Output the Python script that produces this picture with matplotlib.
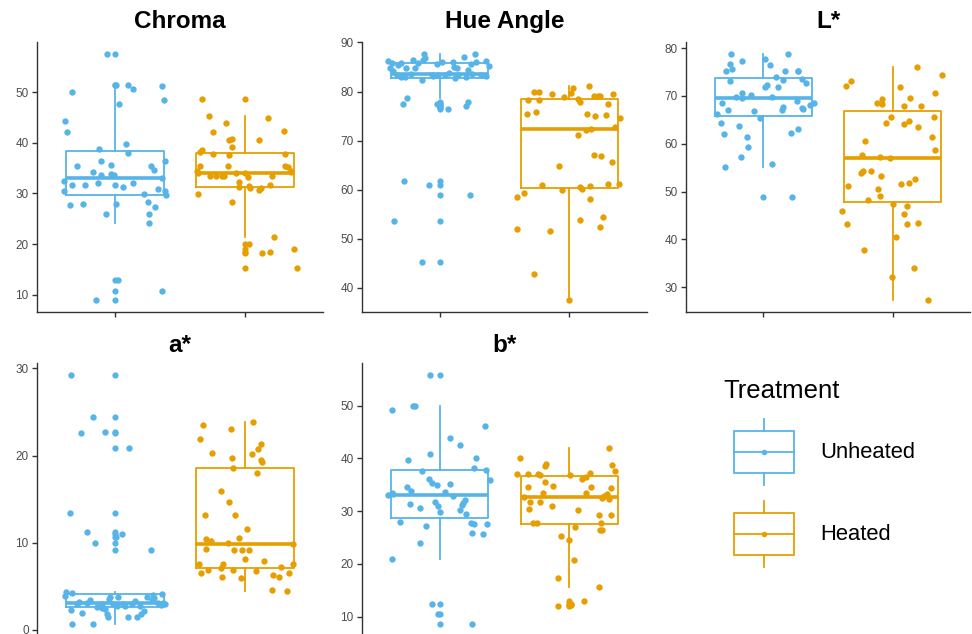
import numpy as np
import matplotlib
matplotlib.use('Agg')
import matplotlib.pyplot as plt
from matplotlib.patches import Rectangle
from matplotlib.lines import Line2D
from matplotlib.legend_handler import HandlerBase
from matplotlib.ticker import MultipleLocator

plt.rcParams['font.family'] = ['Liberation Sans', 'DejaVu Sans']

BLUE = '#56B4E9'
GOLD = '#E69F00'
TXT = '#4D4D4D'
AXC = '#333333'

groups = ['Unheated', 'Heated']

# ── values (one per sample) + horizontal jitter of each point ──
chroma_unheated = [44.4, 42.1, 50.1, 32.4, 30.4, 27.7, 31.6, 35.4, 28.0, 31.6, 34.3, 32.0,
                   38.8, 36.4, 33.7, 25.9, 57.5, 35.6, 33.9, 33.7, 31.6, 28.0, 51.5, 47.7,
                   9.0, 12.8, 10.7, 31.2, 39.8, 37.9, 51.5, 50.7, 32.0, 29.8, 28.3, 25.9,
                   24.1, 35.5, 34.7, 27.3, 30.9, 51.3, 48.5, 36.4, 30.4, 29.6, 33.0]
chroma_unheated_jit = [-0.385, -0.37, -0.33, -0.39, -0.39, -0.35, -0.33, -0.29, -0.25, -0.23, -0.17, -0.13,
                       -0.12, -0.11, -0.11, -0.07, -0.06, -0.03, -0.03, -0.01, 0.0, 0.005, 0.01, 0.03,
                       -0.15, 0.02, 0.36, 0.06, 0.085, 0.1, 0.1, 0.14, 0.14, 0.22, 0.25, 0.26,
                       0.26, 0.28, 0.30, 0.31, 0.33, 0.36, 0.38, 0.385, 0.385, 0.39, 0.36]
chroma_heated = [48.7, 45.3, 42.1, 44.0, 40.6, 40.7, 39.2, 38.1, 38.5, 37.8, 37.6, 34.0,
                 34.5, 35.5, 29.9, 33.5, 33.5, 33.5, 33.5, 35.5, 28.4, 32.3, 31.2, 34.0,
                 20.1, 31.5, 33.3, 31.0, 40.5, 30.6, 31.0, 18.3, 44.9, 31.6, 18.4, 33.5,
                 21.4, 42.4, 37.8, 35.5, 35.3, 34.2, 34.5, 19.1, 15.3, 34.0]
chroma_heated_jit = [-0.33, -0.28, -0.25, -0.15, -0.125, -0.10, -0.10, -0.35, -0.33, -0.25, -0.12, -0.36,
                     -0.37, -0.35, -0.36, -0.27, -0.22, -0.18, -0.16, -0.13, -0.10, -0.05, -0.05, 0.0,
                     0.03, 0.03, 0.025, 0.04, 0.105, 0.11, 0.12, 0.13, 0.18, 0.19, 0.19, 0.21,
                     0.22, 0.30, 0.31, 0.31, 0.33, 0.35, 0.355, 0.38, 0.40, -0.07]

hue_unheated = [86.3, 85.9, 84.8, 84.1, 83.4, 82.9, 84.8, 86.5, 84.8, 82.4, 86.5, 87.6,
                86.8, 83.4, 83.4, 86.1, 84.8, 83.4, 87.0, 84.4, 87.6, 86.1, 85.9, 85.3,
                83.4, 83.6, 83.8, 83.3, 83.5, 83.0, 85.0, 85.5, 85.8, 86.0, 83.0, 83.2,
                83.1, 85.7, 85.6, 82.8, 86.2,
                77.4, 78.6, 77.4, 76.5, 77.1, 77.8, 76.8, 61.8, 60.9, 59.0, 53.7, 45.2]
hue_unheated_jit = [-0.40, -0.37, -0.385, -0.36, -0.33, -0.27, -0.26, -0.205, -0.19, -0.14, -0.13, -0.12,
                    -0.115, -0.06, -0.01, 0.10, 0.13, 0.14, 0.19, 0.22, 0.27, 0.28, -0.30, 0.38,
                    0.32, -0.22, 0.07, 0.04, 0.25, 0.20, 0.11, -0.32, -0.17, 0.02, -0.30, 0.36,
                    -0.05, -0.02, 0.24, 0.12, 0.36,
                    -0.28, -0.25, -0.02, 0.065, 0.205, 0.22, 0.0, -0.275, -0.08, 0.235, -0.35, -0.14]
hue_heated = [58.5, 59.3, 52.0, 42.8, 51.7, 64.8, 60.0, 61.0, 75.4, 75.8, 78.3, 80.0,
              80.0, 78.3, 79.5, 78.9, 79.8, 80.8, 78.5, 77.9, 75.5, 81.2, 79.0, 75.1,
              79.0, 79.0, 75.3, 77.5, 79.5, 74.6, 71.1, 72.2, 72.3, 72.8, 67.1, 66.8,
              65.6, 60.5, 60.2, 60.7, 58.1, 61.1, 61.1, 53.8, 54.4, 52.4, 37.6]
hue_heated_jit = [-0.40, -0.35, -0.40, -0.27, -0.15, -0.08, -0.06, -0.21, -0.33, -0.26, -0.32, -0.27,
                  -0.23, -0.235, -0.13, -0.04, 0.01, 0.03, 0.07, 0.08, 0.14, 0.15, 0.19, 0.20,
                  0.22, 0.24, 0.28, 0.30, 0.34, 0.39, 0.065, 0.13, 0.17, 0.35, 0.19, 0.245,
                  0.33, 0.08, 0.10, 0.16, 0.16, 0.30, 0.38, 0.08, 0.26, 0.24, 0.0]

l_unheated = [78.7, 76.7, 75.3, 75.6, 77.2, 73.2, 68.5, 67.1, 69.7, 70.6, 69.5, 64.4,
              62.0, 63.8, 61.5, 59.3, 57.3, 55.2, 66.9, 65.4, 77.8, 76.4, 72.3, 71.8,
              73.9, 71.8, 69.7, 55.7, 48.8, 78.7, 75.3, 73.4, 67.6, 67.1, 75.3, 75.1,
              73.5, 69.0, 67.4, 67.2, 68.5, 62.2, 63.1, 66.3, 68.0, 70.2, 72.6]
l_unheated_jit = [-0.25, -0.26, -0.29, -0.245, -0.17, -0.26, -0.32, -0.275, -0.21, -0.17, -0.17, -0.33,
                  -0.305, -0.19, -0.13, -0.12, -0.175, -0.295, -0.075, -0.03, 0.01, 0.05, 0.025, 0.013,
                  0.10, 0.115, 0.07, 0.064, 0.22, 0.19, 0.17, 0.154, 0.154, 0.146, 0.27, 0.265,
                  0.295, 0.26, 0.295, 0.308, 0.39, 0.21, 0.27, -0.36, 0.36, -0.10, 0.33]
l_heated = [72.0, 73.2, 45.9, 43.3, 51.1, 53.9, 54.4, 54.4, 60.6, 57.7, 48.3, 37.7,
            68.6, 69.3, 68.4, 64.4, 65.6, 50.6, 49.1, 53.3, 32.1, 40.6, 71.8, 67.9,
            64.2, 64.7, 69.5, 51.5, 51.8, 52.6, 45.3, 47.0, 43.3, 43.5, 34.1, 76.0,
            63.4, 67.9, 27.4, 61.5, 65.6, 58.7, 70.6, 74.4, 57.2, 47.4, 57.0]
l_heated_jit = [-0.36, -0.32, -0.39, -0.355, -0.345, -0.245, -0.226, -0.165, -0.215, -0.24, -0.19, -0.22,
                -0.12, -0.085, -0.08, -0.05, -0.013, -0.115, -0.095, -0.09, -0.008, 0.026, 0.059, 0.085,
                0.085, 0.128, 0.133, 0.064, 0.128, 0.172, 0.09, 0.115, 0.115, 0.197, 0.167, 0.192,
                0.197, 0.223, 0.274, 0.308, 0.321, 0.328, 0.328, 0.385, -0.10, 0.0, -0.02]

a_unheated = [29.2, 24.4, 22.6, 22.7, 20.9, 13.4, 11.2, 11.0, 10.7, 9.9, 9.1,
              0.7, 0.7, 1.9, 2.3, 3.9, 4.3, 3.4, 2.6, 2.4, 1.8, 1.5, 3.8,
              3.0, 2.7, 3.0, 1.5, 2.9, 1.4, 1.8, 3.8, 3.4, 3.1, 3.1, 3.0,
              2.7, 3.1, 2.9, 2.9, 2.7, 4.2, 4.0, 3.6, 3.5, 3.3, 3.2, 2.8,
              2.5, 2.2, 3.7, 4.1]
a_unheated_jit = [-0.34, -0.17, -0.26, -0.075, 0.105, -0.346, -0.213, 0.056, 0.005, -0.154, 0.28,
                  -0.33, -0.17, -0.256, -0.338, -0.385, -0.377, -0.192, -0.141, -0.077, -0.064, -0.051, -0.038,
                  -0.013, 0.013, 0.064, 0.097, 0.128, 0.169, 0.197, 0.244, 0.282, 0.333, 0.372, 0.385,
                  0.077, -0.218, -0.295, -0.103, 0.192, -0.33, 0.29, 0.30, -0.05, 0.15, -0.28, 0.35,
                  -0.10, 0.22, 0.02, 0.36]
a_heated = [23.5, 21.9, 20.3, 23.1, 23.9, 19.7, 18.6, 20.2, 20.7, 21.3, 19.5, 19.2,
            18.0, 15.9, 14.7, 13.2, 13.2, 11.6, 10.4, 10.2, 9.3, 9.9, 10.5, 9.2,
            9.2, 9.2, 8.1, 7.5, 7.6, 7.9, 6.5, 6.8, 7.1, 6.1, 6.8, 5.9,
            6.7, 6.3, 7.2, 6.0, 6.5, 7.5, 4.6, 4.4, 9.8]
a_heated_jit = [-0.32, -0.35, -0.253, -0.108, 0.059, -0.103, -0.09, 0.056, 0.097, 0.123, 0.123, 0.128,
                0.09, -0.187, -0.121, -0.308, -0.074, 0.018, -0.303, -0.262, -0.30, -0.133, -0.044, -0.082,
                -0.021, 0.033, 0.0, -0.351, -0.172, 0.149, -0.341, -0.287, -0.187, -0.179, -0.09, -0.033,
                0.085, 0.213, 0.277, 0.264, 0.338, 0.367, 0.205, 0.326, 0.372]

b_unheated = [55.7, 49.2, 49.9, 50.0, 39.6, 40.9, 43.8, 42.5, 40.1, 46.2, 38.2, 37.8,
              35.8, 37.6, 34.5, 33.9, 33.1, 33.4, 33.3, 36.0, 35.3, 34.9, 35.1, 33.7,
              32.8, 31.8, 30.9, 29.8, 31.3, 30.6, 28.0, 27.2, 23.9, 21.0, 30.2, 31.2,
              31.6, 32.1, 29.4, 27.7, 27.5, 27.5, 25.8, 25.6, 12.4, 10.5, 8.7]
b_unheated_jit = [-0.077, -0.365, -0.205, -0.192, -0.244, -0.077, 0.082, 0.154, 0.282, 0.351, 0.262, 0.359,
                  0.385, -0.136, -0.256, -0.218, -0.397, -0.372, -0.359, -0.085, -0.059, -0.021, 0.082, 0.038,
                  0.103, -0.033, -0.013, 0.005, -0.231, -0.149, -0.308, -0.108, -0.149, -0.372, 0.154, 0.172,
                  0.179, 0.192, 0.205, 0.244, 0.262, 0.364, 0.251, 0.333, -0.056, -0.013, 0.251]
b_heated = [40.1, 42.0, 38.8, 37.6, 39.0, 38.6, 37.1, 37.0, 37.1, 36.8, 36.9, 36.0,
            36.5, 37.3, 34.5, 35.5, 34.8, 34.5, 34.4, 33.5, 33.5, 32.5, 33.2, 32.3,
            31.7, 31.7, 30.4, 30.9, 30.2, 29.3, 29.3, 27.8, 27.8, 27.7, 26.9, 26.4,
            26.4, 25.3, 24.5, 20.7, 17.3, 15.6, 12.05, 13.0, 12.5, 12.3, 32.8, 32.7]
b_heated_jit = [-0.38, 0.31, 0.33, 0.354, -0.18, -0.19, -0.40, -0.315, -0.244, -0.223, 0.005, 0.10,
                0.128, 0.16, -0.32, -0.19, -0.123, 0.17, 0.32, -0.205, 0.128, 0.256, 0.29, 0.31,
                -0.30, -0.223, -0.313, -0.133, 0.064, 0.23, 0.32, -0.28, -0.25, 0.244, 0.046, 0.238,
                0.25, -0.064, 0.0, 0.038, -0.09, 0.23, -0.09, 0.115, 0.01, 0.015, 0.27, -0.35]

panels = [
    ('Chroma',    [chroma_unheated, chroma_heated], [chroma_unheated_jit, chroma_heated_jit]),
    ('Hue Angle', [hue_unheated, hue_heated],       [hue_unheated_jit, hue_heated_jit]),
    ('L*',        [l_unheated, l_heated],           [l_unheated_jit, l_heated_jit]),
    ('a*',        [a_unheated, a_heated],           [a_unheated_jit, a_heated_jit]),
    ('b*',        [b_unheated, b_heated],           [b_unheated_jit, b_heated_jit]),
]
colors = [BLUE, GOLD]

W, H = 972, 634
fig = plt.figure(figsize=(W/100, H/100), dpi=100)

# axes rectangles in pixels: (left, top, width, height)
rects = [(37, 42, 286, 270), (362, 42, 285, 270), (686, 42, 284, 270),
         (37, 363, 286, 273), (362, 363, 285, 273)]


class BoxKey(HandlerBase):
    """ggplot-like boxplot legend key"""
    def create_artists(self, legend, orig_handle, xdescent, ydescent,
                       width, height, fontsize, trans):
        c = orig_handle.get_color()
        x0 = -xdescent + width*0.14
        w = width*0.86
        y0 = -ydescent
        bh = height*0.63
        by = y0 + (height - bh)/2
        cx = x0 + w/2
        kw = dict(color=c, lw=1.3, transform=trans)
        return [Rectangle((x0, by), w, bh, fill=False, ec=c, lw=1.3, transform=trans),
                Line2D([cx, cx], [by + bh, y0 + height], **kw),
                Line2D([cx, cx], [y0, by], **kw),
                Line2D([x0, x0 + w], [y0 + height/2]*2, **kw),
                Line2D([cx], [y0 + height/2], marker='o', ms=4, mec='none', mfc=c,
                       transform=trans)]


for i, (title, data, jits) in enumerate(panels):
    l, t, w, h = rects[i]
    ax = fig.add_axes([l/W, 1 - (t + h)/H, w/W, h/H])
    for k, (vals, jit, c) in enumerate(zip(data, jits, colors)):
        pos = k + 1
        ax.boxplot([vals], positions=[pos], widths=0.75, showcaps=False,
                   boxprops=dict(color=c, lw=1.3),
                   whiskerprops=dict(color=c, lw=1.3),
                   medianprops=dict(color=c, lw=2.6),
                   flierprops=dict(marker='o', mfc=c, mec='none', ms=4.5))
        ax.scatter(pos + np.array(jit), vals, s=21, color=c, lw=0, zorder=3)

    allv = np.concatenate([np.array(d) for d in data])
    lo, hi = allv.min(), allv.max()
    pad = 0.05*(hi - lo)
    ax.set_ylim(lo - pad, hi + pad)
    ax.set_xlim(0.4, 2.6)
    ax.set_xticks([1, 2])
    ax.set_xticklabels(['', ''])
    ax.yaxis.set_major_locator(MultipleLocator(10))
    for s in ['top', 'right']:
        ax.spines[s].set_visible(False)
    for s in ['left', 'bottom']:
        ax.spines[s].set_color(AXC)
        ax.spines[s].set_linewidth(1.0)
    ax.tick_params(axis='both', colors=AXC, length=3.5, width=1.0, labelsize=8.5,
                   labelcolor=TXT, pad=2.5)
    ax.set_title(title, fontsize=17.5, fontweight='bold', pad=10 if i < 3 else 8)

handles = [Line2D([], [], color=c) for c in colors]
fig.legend(handles, groups, loc='upper left', bbox_to_anchor=(704/W, 1 - 359/H),
           frameon=False, title='Treatment', title_fontsize=18.5, fontsize=15.8,
           alignment='left', handler_map={Line2D: BoxKey()},
           handlelength=3.2, handleheight=4.25, labelspacing=0.74, handletextpad=1.2)

fig.savefig('out.png', dpi=100)
